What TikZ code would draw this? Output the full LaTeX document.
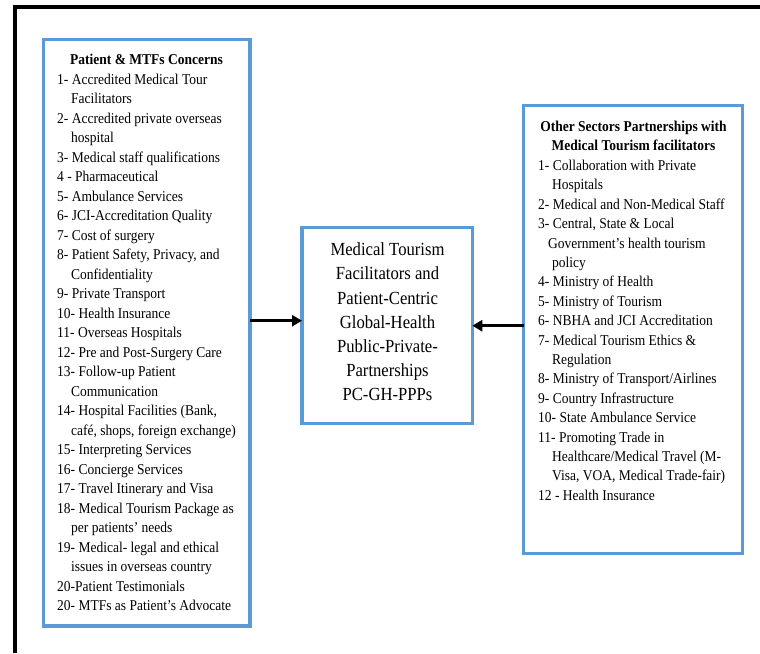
\documentclass[tikz,border=0pt]{standalone}
\usepackage{fontspec}
\setmainfont{Liberation Serif}[FakeStretch=0.9]
\usetikzlibrary{arrows.meta}
\definecolor{boxblue}{RGB}{91,155,213}
\newcommand{\cont}[1]{\hspace*{#1pt}}
\begin{document}
\begin{tikzpicture}[x=1pt,y=-1pt,
  bluebox/.style={draw=boxblue,line width=3.2pt,inner sep=0pt,outer sep=0pt,fill=white},
  listtext/.style={inner sep=0pt,anchor=base west},
  titletext/.style={inner sep=0pt,anchor=base,font=\bfseries\fontsize{15}{19.5}\selectfont},
  link/.style={line width=3pt,-{Triangle[length=10pt,width=11pt]}}]
\useasboundingbox (0,0) rectangle (760,653);

% page frame (left and top rules)
\draw[line width=3.6pt] (15,653) -- (15,7) -- (760,7);

% the three boxes
\node[bluebox,minimum width=206.7pt,minimum height=586.3pt] (lbox) at (146.65,332.85) {};
\node[bluebox,minimum width=219.1pt,minimum height=448.5pt] (rbox) at (633.25,329.55) {};
\node[bluebox,minimum width=170.3pt,minimum height=196pt] (cbox) at (387.15,325.2) {};

% left box contents
\node[titletext] (ltitle) at (146.5,64.5) {Patient \& MTFs Concerns};
\node[listtext] (llist) at (57,84) {\parbox[t]{190pt}{\fontsize{15}{19.5}\selectfont\raggedright
1- Accredited Medical Tour\\
\cont{14}Facilitators\\
2- Accredited private overseas\\
\cont{14}hospital\\
3- Medical staff qualifications\\
4 - Pharmaceutical\\
5- Ambulance Services\\
6- JCI-Accreditation Quality\\
7- Cost of surgery\\
8- Patient Safety, Privacy, and\\
\cont{14}Confidentiality\\
9- Private Transport\\
10- Health Insurance\\
11- Overseas Hospitals\\
12- Pre and Post-Surgery Care\\
13- Follow-up Patient\\
\cont{14}Communication\\
14- Hospital Facilities (Bank,\\
\cont{14}café, shops, foreign exchange)\\
15- Interpreting Services\\
16- Concierge Services\\
17- Travel Itinerary and Visa\\
18- Medical Tourism Package as\\
\cont{14}per patients’ needs\\
19- Medical- legal and ethical\\
\cont{14}issues in overseas country\\
20-Patient Testimonials\\
20- MTFs as Patient’s Advocate}};

% right box contents
\node[titletext] (rtitle) at (633.5,131) {\parbox[t]{215pt}{\bfseries\fontsize{15}{19.8}\selectfont\centering
Other Sectors Partnerships with\\Medical Tourism facilitators\par}};
\node[listtext] (rlist) at (538,170.5) {\parbox[t]{200pt}{\fontsize{15}{19.4}\selectfont\raggedright
1- Collaboration with Private\\
\cont{14}Hospitals\\
2- Medical and Non-Medical Staff\\
3- Central, State \& Local\\
\cont{10}Government’s health tourism\\
\cont{14}policy\\
4- Ministry of Health\\
5- Ministry of Tourism\\
6- NBHA and JCI Accreditation\\
7- Medical Tourism Ethics \&\\
\cont{14}Regulation\\
8- Ministry of Transport/Airlines\\
9- Country Infrastructure\\
10- State Ambulance Service\\
11- Promoting Trade in\\
\cont{14}Healthcare/Medical Travel (M-\\
\cont{14}Visa, VOA, Medical Trade-fair)\\
12 - Health Insurance}};

% centre box contents
\node[inner sep=0pt,anchor=base] (ctext) at (387.5,255.7) {\parbox[t]{160pt}{\fontsize{18.5}{24.2}\selectfont\centering
Medical Tourism\\
Facilitators and\\
Patient-Centric\\
Global-Health\\
Public-Private-\\
Partnerships\\
PC-GH-PPPs\par}};

% connectors into the centre box
\coordinate (lrow) at (0,320.7);
\coordinate (rrow) at (0,325.7);
\draw[link] (lbox.east |- lrow) -- (cbox.west |- lrow);
\draw[link] (rbox.west |- rrow) -- (cbox.east |- rrow);
\end{tikzpicture}
\end{document}
